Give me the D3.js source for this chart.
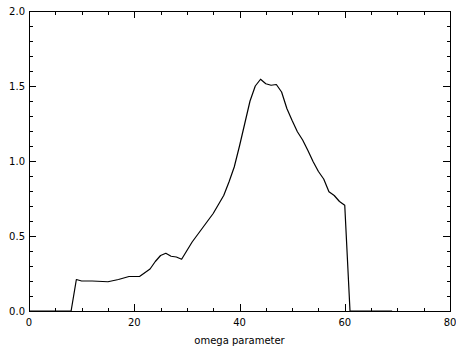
<!DOCTYPE html>
<html>
<head>
<meta charset="utf-8">
<script src="https://cdn.jsdelivr.net/npm/d3@7"></script>
<style>
  html, body { margin: 0; padding: 0; background: #fff; }
  #chart { width: 456px; height: 347px; }
  text { font-family: "DejaVu Sans", sans-serif; fill: #000; }
</style>
</head>
<body>
<div id="chart"></div>
<script>
// omega parameter curve
const omega = [0, 8, 9, 10, 12, 15, 17, 19, 21, 23, 24, 25, 26, 27, 28, 29, 31, 33, 35, 37, 38,
  39, 40, 41, 42, 43, 44, 45, 46, 47, 48, 49, 50, 51, 52, 53, 54, 55, 56, 57, 58, 59, 60, 61, 69];
const values = [0, 0, 0.21, 0.2, 0.2, 0.195, 0.21, 0.23, 0.23, 0.28, 0.33, 0.37, 0.385, 0.365, 0.36, 0.345,
  0.46, 0.555, 0.65, 0.77, 0.86, 0.96, 1.1, 1.25, 1.4, 1.5, 1.545, 1.515, 1.505, 1.51, 1.46, 1.35, 1.27,
  1.195, 1.14, 1.07, 0.995, 0.93, 0.88, 0.795, 0.77, 0.73, 0.705, 0, 0];
const xTicks = [0, 20, 40, 60, 80];
const yTicks = [0, 0.5, 1.0, 1.5, 2.0];
const xTitle = 'omega parameter';

(function(){
  const width = 456, height = 347;
  const left = 29, right = 450, top = 11, bottom = 311;

  const svg = d3.select('#chart').append('svg')
    .attr('width', width)
    .attr('height', height)
    .style('display', 'block');

  const x = d3.scaleLinear().domain([0, 80]).range([left, right]);
  const y = d3.scaleLinear().domain([0, 2]).range([bottom, top]);

  // minor ticks: x every 5, y every 0.1
  const xMinor = d3.range(0, 80.001, 5);
  const yMinor = d3.range(0, 2.0001, 0.1).map(v => +v.toFixed(2));

  const axes = svg.append('g').attr('stroke', '#000').attr('stroke-width', 1).attr('shape-rendering', 'crispEdges');
  axes.append('rect')
    .attr('x', left).attr('y', top)
    .attr('width', right - left).attr('height', bottom - top)
    .attr('fill', 'none');

  const isMajorX = v => xTicks.some(t => Math.abs(t - v) < 1e-6);
  const isMajorY = v => yTicks.some(t => Math.abs(t - v) < 1e-6);

  xMinor.forEach(v => {
    const len = isMajorX(v) ? 7 : 3.5;
    const px = Math.round(x(v)) + 0.5;
    axes.append('line').attr('x1', px).attr('x2', px).attr('y1', bottom).attr('y2', bottom - len);
    axes.append('line').attr('x1', px).attr('x2', px).attr('y1', top).attr('y2', top + len);
  });
  yMinor.forEach(v => {
    const len = isMajorY(v) ? 7 : 3.5;
    const py = Math.round(y(v)) + 0.5;
    axes.append('line').attr('y1', py).attr('y2', py).attr('x1', left).attr('x2', left + len);
    axes.append('line').attr('y1', py).attr('y2', py).attr('x1', right).attr('x2', right - len);
  });

  svg.append('g').selectAll('text.xt')
    .data(xTicks)
    .join('text')
    .attr('class', 'xt')
    .attr('x', d => x(d))
    .attr('y', 326)
    .attr('text-anchor', 'middle')
    .style('font-size', '10px')
    .text(d => d);

  svg.append('g').selectAll('text.yt')
    .data(yTicks)
    .join('text')
    .attr('class', 'yt')
    .attr('x', 25)
    .attr('y', d => y(d) + 3.5)
    .attr('text-anchor', 'end')
    .style('font-size', '10px')
    .text(d => d.toFixed(1));

  svg.append('text')
    .attr('x', (left + right) / 2)
    .attr('y', 344)
    .attr('text-anchor', 'middle')
    .style('font-size', '10px')
    .text(xTitle);

  const line = d3.line()
    .x((d, i) => x(omega[i]))
    .y(d => y(d));

  svg.append('path')
    .datum(values)
    .attr('d', line)
    .attr('fill', 'none')
    .attr('stroke', '#000')
    .attr('stroke-width', 1.2)
    .attr('stroke-linejoin', 'round');
})();
</script>
</body>
</html>
